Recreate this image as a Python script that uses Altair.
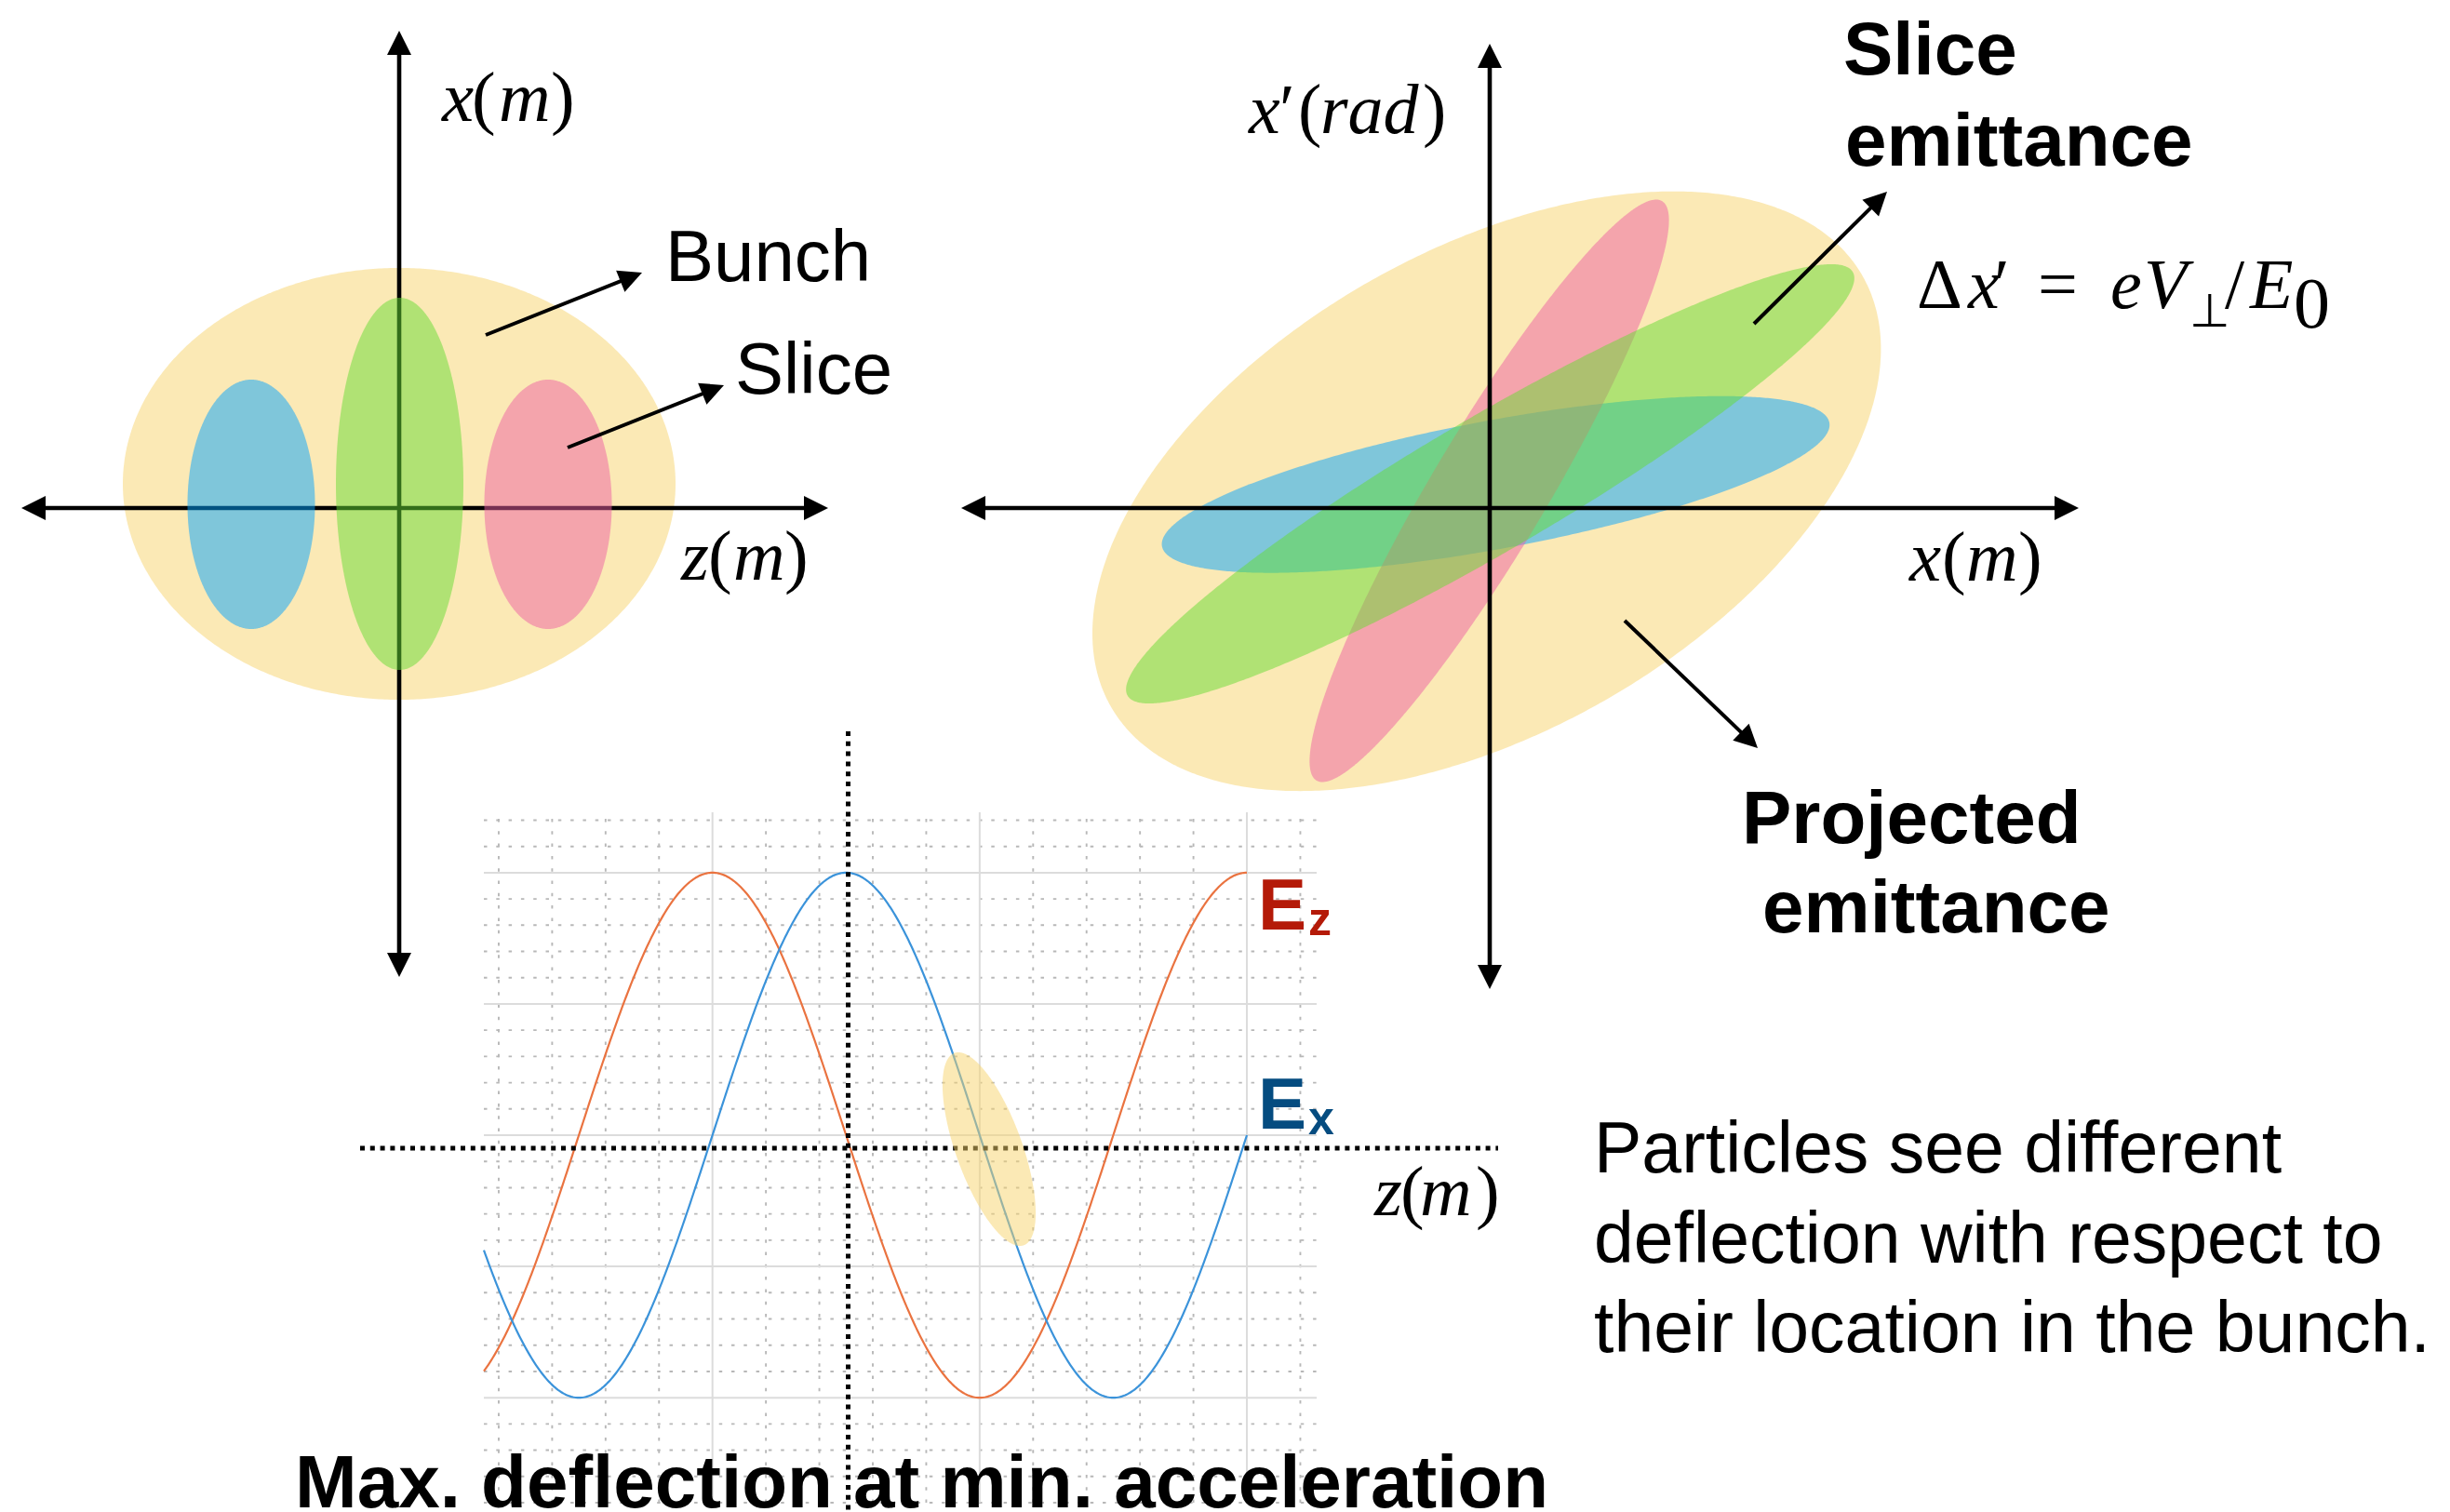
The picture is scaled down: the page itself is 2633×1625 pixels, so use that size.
import math
import numpy as np
import pandas as pd
import altair as alt

CANVAS_W, CANVAS_H = 2633, 1625

# ---------------------------------------------------------------
# Phase-space ellipses: centre, semi-axes and tilt
# (screen pixels; tilt in degrees, positive = clockwise on screen)
# ---------------------------------------------------------------
# z–x plane: the bunch and three longitudinal slices
zx_name = ["bunch", "slice_blue", "slice_green", "slice_pink"]
zx_cx = [429.0, 270.0, 429.5, 589.0]
zx_cy = [520.0, 542.0, 520.0, 542.0]
zx_a = [297.0, 68.5, 68.5, 68.5]
zx_b = [232.0, 134.0, 200.0, 134.0]
zx_tilt = [0.0, 0.0, 0.0, 0.0]

# x–x' plane: projected emittance (bunch) and slice emittances
xp_name = ["bunch", "slice_blue", "slice_pink", "slice_green"]
xp_cx = [1597.7, 1607.4, 1600.5, 1601.5]
xp_cy = [527.9, 520.7, 527.5, 520.0]
xp_a = [465.5, 364.7, 362.5, 451.3]
xp_b = [258.2, 69.0, 62.0, 72.0]
xp_tilt = [-29.85, -10.5, -59.2, -30.3]

# bunch sitting on the RF wave
rf_cx, rf_cy, rf_a, rf_b, rf_tilt = 1063.0, 1235.0, 109.8, 35.6, 70.2

fill_colors = {
    "bunch": "#F7D36B",
    "slice_blue": "#03A3FF",
    "slice_green": "#65DB33",
    "slice_pink": "#ED5FA3",
}
FILL_OPACITY = 0.5

# ---------------------------------------------------------------
# RF fields versus phase (degrees): Ez = cos(phase), Ex = sin(phase)
# ---------------------------------------------------------------
rf_phase = list(range(-154, 361))
phase_range = [-154, 407]
field_range = [-1.4, 1.23]
major_phase = [0, 180, 360]
minor_phase = [-144, -108, -72, -36, 36, 72, 108, 144, 216, 252, 288, 324, 396]
major_field = [-1.0, -0.5, 0.0, 0.5, 1.0]
minor_field = [-1.4, -1.3, -1.2, -1.1, -0.9, -0.8, -0.7, -0.6, -0.4, -0.3, -0.2, -0.1,
               0.1, 0.2, 0.3, 0.4, 0.6, 0.7, 0.8, 0.9, 1.1, 1.2]
EZ_COLOR, EX_COLOR = "#EA7340", "#3B93DA"

# where the RF plot box sits on the page
RF_LEFT, RF_RIGHT, RF_TOP, RF_BOTTOM = 520, 1415, 873, 1615

# ---------------------------------------------------------------
# Arrows: (tail x, tail y, tip x, tip y)
# ---------------------------------------------------------------
axis_arrows = [  # double headed
    (23, 546, 890, 546),
    (429, 1050, 429, 33),
    (1033, 546, 2234, 546),
    (1601, 1063, 1601, 47),
]
pointer_arrows = [
    (522, 360, 690, 293),
    (610, 481, 778, 414),
    (1885, 348, 2028, 206),
    (1746, 667, 1889, 804),
]
dotted_axes = [  # x, y, x2, y2
    (387, 1234, 1610, 1234),
    (911.5, 786, 911.5, 1625),
]

# ---------------------------------------------------------------
# Text: (text, x, baseline y, font size, colour)
# ---------------------------------------------------------------
sans_regular = [
    ("Bunch", 715, 302, 78, "#000000"),
    ("Slice", 790, 423, 78, "#000000"),
    ("Particles see different", 1713, 1260, 77, "#000000"),
    ("deflection with respect to", 1713, 1357, 77, "#000000"),
    ("their location in the bunch.", 1713, 1453, 77, "#000000"),
]
sans_bold = [
    ("Slice", 1981, 80, 80, "#000000"),
    ("emittance", 1983, 178, 80, "#000000"),
    ("Projected", 1872, 906, 80, "#000000"),
    ("emittance", 1894, 1002, 80, "#000000"),
    ("Max. deflection at min. acceleration", 317, 1620, 80, "#000000"),
    ("E", 1352, 999, 78, "#B41A08"),
    ("z", 1406, 1005, 50, "#B41A08"),
    ("E", 1352, 1213, 78, "#054C80"),
    ("x", 1406, 1219, 50, "#054C80"),
]
serif_italic = [
    ("x", 475, 130, 77, "#000000"), ("m", 536, 130, 77, "#000000"),
    ("z", 732, 623, 77, "#000000"), ("m", 788, 623, 77, "#000000"),
    ("x", 1342, 143, 76, "#000000"), ("rad", 1419, 143, 76, "#000000"),
    ("x", 2052, 624, 77, "#000000"), ("m", 2113, 624, 77, "#000000"),
    ("z", 1477, 1306, 77, "#000000"), ("m", 1526, 1306, 77, "#000000"),
    ("x", 2115, 331, 76, "#000000"), ("e", 2268, 331, 76, "#000000"),
    ("V", 2304, 331, 76, "#000000"), ("E", 2418, 331, 76, "#000000"),
]
serif_upright = [
    ("(", 507, 130, 77, "#000000"), (")", 592, 130, 77, "#000000"),
    ("(", 761, 623, 77, "#000000"), (")", 843, 623, 77, "#000000"),
    ("\u2032", 1375, 143, 76, "#000000"), ("(", 1395, 143, 76, "#000000"),
    (")", 1529, 143, 76, "#000000"),
    ("(", 2087, 624, 77, "#000000"), (")", 2169, 624, 77, "#000000"),
    ("(", 1505, 1306, 77, "#000000"), (")", 1586, 1306, 77, "#000000"),
    ("\u0394", 2060, 331, 76, "#000000"), ("\u2032", 2143, 331, 76, "#000000"),
    ("=", 2190, 331, 76, "#000000"), ("\u22A5", 2353, 351, 50, "#000000"),
    ("/", 2391, 331, 76, "#000000"), ("0", 2465, 352, 78, "#000000"),
]

HEAD_PATH = "M0,-1L1,1L-1,1Z"


# ---------------------------------------------------------------
# helpers
# ---------------------------------------------------------------
def ellipse_band(cx, cy, a, b, tilt, n=301):
    """Upper and lower outline of a tilted ellipse as functions of x."""
    t = math.radians(tilt)
    c, s = math.cos(t), math.sin(t)
    A = c * c / a ** 2 + s * s / b ** 2
    B = 2 * c * s * (1 / a ** 2 - 1 / b ** 2)
    C = s * s / a ** 2 + c * c / b ** 2
    half_w = math.sqrt(a * a * c * c + b * b * s * s)
    u = -half_w * np.cos(np.linspace(0, np.pi, n))
    root = np.sqrt(np.clip(B * B * u * u - 4 * C * (A * u * u - 1), 0, None))
    return pd.DataFrame({
        "x": cx + u,
        "y_top": cy + (-B * u - root) / (2 * C),
        "y_bot": cy + (-B * u + root) / (2 * C),
    })


def px(field):
    return alt.X(f"{field}:Q", axis=None,
                 scale=alt.Scale(domain=[0, CANVAS_W], nice=False, zero=False))


def py(field):
    return alt.Y(f"{field}:Q", axis=None,
                 scale=alt.Scale(domain=[CANVAS_H, 0], nice=False, zero=False))


def ellipse_layer(cx, cy, a, b, tilt, color):
    return alt.Chart(ellipse_band(cx, cy, a, b, tilt)).mark_area(
        orient="vertical", color=color, opacity=FILL_OPACITY
    ).encode(x=px("x"), y=py("y_top"), y2=alt.Y2("y_bot:Q"))


def arrow_layers(segments, double, width, head):
    shafts, heads = [], []
    half = head / 2.0
    for x0, y0, x1, y1 in segments:
        L = math.hypot(x1 - x0, y1 - y0)
        ux, uy = (x1 - x0) / L, (y1 - y0) / L
        ang = math.degrees(math.atan2(ux, -uy)) % 360
        hx, hy = x1 - ux * half, y1 - uy * half
        heads.append({"x": hx, "y": hy, "angle": ang})
        sx, sy = x0, y0
        if double:
            sx, sy = x0 + ux * half, y0 + uy * half
            heads.append({"x": sx, "y": sy, "angle": (ang + 180) % 360})
        shafts.append({"x": sx, "y": sy, "x2": hx, "y2": hy})
    shaft = alt.Chart(pd.DataFrame(shafts)).mark_rule(
        color="black", strokeWidth=width
    ).encode(x=px("x"), y=py("y"), x2=alt.X2("x2:Q"), y2=alt.Y2("y2:Q"))
    tips = alt.Chart(pd.DataFrame(heads)).mark_point(
        shape=HEAD_PATH, filled=True, color="black", opacity=1, strokeWidth=0,
        size=head * head
    ).encode(x=px("x"), y=py("y"), angle=alt.Angle("angle:Q", scale=None))
    return [shaft, tips]


def text_layer(rows, font, weight="normal", style="normal"):
    df = pd.DataFrame(rows, columns=["text", "x", "y", "size", "color"])
    return alt.Chart(df).mark_text(
        align="left", baseline="alphabetic", font=font,
        fontWeight=weight, fontStyle=style
    ).encode(x=px("x"), y=py("y"), text="text:N",
             size=alt.Size("size:Q", scale=None),
             color=alt.Color("color:N", scale=None))


# ---------------------------------------------------------------
# RF field plot (own phase / field scales spanning the page)
# ---------------------------------------------------------------
deg_per_px = (phase_range[1] - phase_range[0]) / (RF_RIGHT - RF_LEFT)
ph_lo = phase_range[0] - RF_LEFT * deg_per_px
ph_hi = ph_lo + CANVAS_W * deg_per_px
unit_per_px = (field_range[1] - field_range[0]) / (RF_BOTTOM - RF_TOP)
f_hi = field_range[1] + RF_TOP * unit_per_px
f_lo = f_hi - CANVAS_H * unit_per_px


def wx(field):
    return alt.X(f"{field}:Q", axis=None,
                 scale=alt.Scale(domain=[ph_lo, ph_hi], nice=False, zero=False))


def wy(field):
    return alt.Y(f"{field}:Q", axis=None,
                 scale=alt.Scale(domain=[f_lo, f_hi], nice=False, zero=False))


def vgrid(values, **style):
    df = pd.DataFrame({"phase": values, "f0": field_range[0], "f1": field_range[1]})
    return alt.Chart(df).mark_rule(**style).encode(
        x=wx("phase"), y=wy("f0"), y2=alt.Y2("f1:Q"))


def hgrid(values, **style):
    df = pd.DataFrame({"field": values, "p0": phase_range[0], "p1": phase_range[1]})
    return alt.Chart(df).mark_rule(**style).encode(
        y=wy("field"), x=wx("p0"), x2=alt.X2("p1:Q"))


minor_style = dict(color="#b8b8b8", strokeWidth=1.9, strokeDash=[3.5, 9.8])
major_style = dict(color="#dcdcdc", strokeWidth=2)

phase = np.array(rf_phase, dtype=float)
wave_df = pd.DataFrame({
    "phase": phase,
    "Ez": np.cos(np.radians(phase)),
    "Ex": np.sin(np.radians(phase)),
})

rf_plot = alt.layer(
    vgrid(minor_phase, **minor_style),
    hgrid(minor_field, **minor_style),
    vgrid(major_phase, **major_style),
    hgrid(major_field, **major_style),
    alt.Chart(wave_df).mark_line(color=EZ_COLOR, strokeWidth=2.2).encode(
        x=wx("phase"), y=wy("Ez")),
    alt.Chart(wave_df).mark_line(color=EX_COLOR, strokeWidth=2.2).encode(
        x=wx("phase"), y=wy("Ex")),
)

# ---------------------------------------------------------------
# Page layers (pixel coordinates)
# ---------------------------------------------------------------
page = []
# z–x plane: bunch, axes, then translucent slices over the axes
page.append(ellipse_layer(zx_cx[0], zx_cy[0], zx_a[0], zx_b[0], zx_tilt[0],
                          fill_colors[zx_name[0]]))
page += arrow_layers(axis_arrows[:2], True, 4.6, 26)
for i in range(1, len(zx_name)):
    page.append(ellipse_layer(zx_cx[i], zx_cy[i], zx_a[i], zx_b[i], zx_tilt[i],
                              fill_colors[zx_name[i]]))
# x–x' plane: ellipses, then axes on top
for i in range(len(xp_name)):
    page.append(ellipse_layer(xp_cx[i], xp_cy[i], xp_a[i], xp_b[i], xp_tilt[i],
                              fill_colors[xp_name[i]]))
page += arrow_layers(axis_arrows[2:], True, 4.6, 26)
page += arrow_layers(pointer_arrows, False, 4.0, 25)

# dotted axes of the RF plot and the bunch on the wave
dotted_df = pd.DataFrame(dotted_axes, columns=["x", "y", "x2", "y2"])
page.append(alt.Chart(dotted_df).mark_rule(
    color="black", strokeWidth=5, strokeDash=[5, 5.8]
).encode(x=px("x"), y=py("y"), x2=alt.X2("x2:Q"), y2=alt.Y2("y2:Q")))
page.append(ellipse_layer(rf_cx, rf_cy, rf_a, rf_b, rf_tilt, fill_colors["bunch"]))

page.append(text_layer(sans_regular, "Liberation Sans"))
page.append(text_layer(sans_bold, "Liberation Sans", weight="bold"))
page.append(text_layer(serif_italic, "Liberation Serif", style="italic"))
page.append(text_layer(serif_upright, "Liberation Serif"))

canvas = alt.layer(*page)

chart = alt.layer(rf_plot, canvas).resolve_scale(
    x="independent", y="independent"
).properties(
    width=CANVAS_W, height=CANVAS_H, padding=0,
    autosize=alt.AutoSizeParams(type="none"), background="white"
).configure_view(stroke=None)

chart.save("out.html", embed_options={"renderer": "svg", "actions": False})
